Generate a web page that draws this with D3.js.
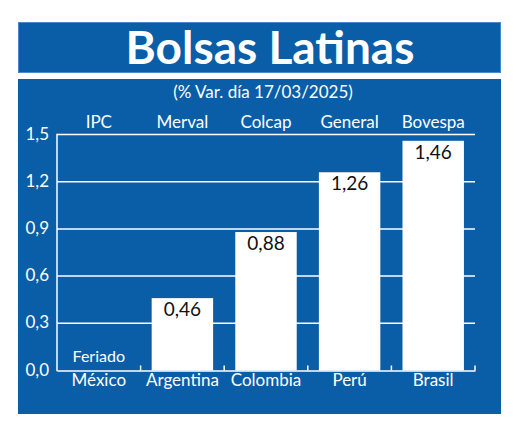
<!DOCTYPE html>
<html>
<head>
<meta charset="utf-8">
<script src="https://cdn.jsdelivr.net/npm/d3@7"></script>
<style>
  body { margin: 0; background: #fff; }
  text { font-family: Lato, "Open Sans", sans-serif; }
</style>
</head>
<body>
<svg id="chart" width="520" height="430"></svg>
<script>
// chart data
var countries = ['México', 'Argentina', 'Colombia', 'Perú', 'Brasil'];
var indices = ['IPC', 'Merval', 'Colcap', 'General', 'Bovespa'];
var values = [null, 0.46, 0.88, 1.26, 1.46];
var yTicks = [0, 0.3, 0.6, 0.9, 1.2, 1.5];

var blue = '#0a5ea8';
var svg = d3.select('#chart');

// title box
svg.append('rect')
  .attr('x', 18.5).attr('y', 22.5).attr('width', 482).attr('height', 50)
  .attr('fill', blue).attr('stroke', '#4a8acb').attr('stroke-width', 1);

svg.append('text')
  .attr('x', 270).attr('y', 63.5)
  .attr('text-anchor', 'middle')
  .attr('fill', '#fff')
  .style('font-size', '46px').style('font-weight', 700)
  .text('Bolsas Latinas');

// main box
svg.append('rect')
  .attr('x', 18).attr('y', 79).attr('width', 483).attr('height', 335)
  .attr('fill', blue);

svg.append('text')
  .attr('x', 263).attr('y', 98)
  .attr('text-anchor', 'middle')
  .attr('fill', '#fff')
  .style('font-size', '17px')
  .text('(% Var. día 17/03/2025)');

var x = d3.scaleBand().domain(countries).range([57, 475]).paddingInner(0.265).paddingOuter(0.1325);
var xb = d3.scaleBand().domain(countries).range([57, 475]);
var y = d3.scaleLinear().domain([0, 1.5]).range([370.5, 134.5]);

var fmt = v => d3.format('.1f')(v).replace('.', ',');
var fmt2 = v => d3.format('.2f')(v).replace('.', ',');

// gridlines
svg.append('g')
  .selectAll('line')
  .data(yTicks.slice(1))
  .enter().append('line')
  .attr('x1', 57).attr('x2', 475)
  .attr('y1', d => y(d)).attr('y2', d => y(d))
  .attr('stroke', '#fff').attr('stroke-width', 1.5);

// y axis labels
svg.append('g')
  .selectAll('text')
  .data(yTicks)
  .enter().append('text')
  .attr('x', 49).attr('y', d => y(d) + 5)
  .attr('text-anchor', 'end')
  .attr('fill', '#fff')
  .style('font-size', '17px')
  .text(fmt);

// bars
var data = countries.map((c, i) => ({ country: c, index: indices[i], value: values[i] }));
var withValue = data.filter(d => d.value !== null);

svg.append('g')
  .selectAll('rect')
  .data(withValue)
  .enter().append('rect')
  .attr('x', d => x(d.country))
  .attr('width', x.bandwidth())
  .attr('y', d => y(d.value))
  .attr('height', d => y(0) - y(d.value))
  .attr('fill', '#fff');

svg.append('g')
  .selectAll('text')
  .data(withValue)
  .enter().append('text')
  .attr('x', d => x(d.country) + x.bandwidth() / 2)
  .attr('y', d => y(d.value) + 18)
  .attr('text-anchor', 'middle')
  .attr('fill', '#111')
  .style('font-size', '19px')
  .text(d => fmt2(d.value));

// holiday note
svg.append('g')
  .selectAll('text')
  .data(data.filter(d => d.value === null))
  .enter().append('text')
  .attr('x', d => xb(d.country) + xb.bandwidth() / 2)
  .attr('y', 362)
  .attr('text-anchor', 'middle')
  .attr('fill', '#fff')
  .style('font-size', '16px')
  .text('Feriado');

// axes lines
svg.append('line')
  .attr('x1', 57).attr('x2', 57).attr('y1', y(1.5) - 0.75).attr('y2', y(0) + 0.75)
  .attr('stroke', '#fff').attr('stroke-width', 1.5);

var xAxis = d3.axisBottom(xb).tickSize(0).tickFormat('');
var gx = svg.append('g').attr('transform', `translate(0,${y(0)})`).call(xAxis);
gx.select('.domain').attr('stroke', '#fff').attr('stroke-width', 1.5);

// small upward ticks at band boundaries
svg.append('g')
  .selectAll('line')
  .data(countries)
  .enter().append('line')
  .attr('x1', d => xb(d) + xb.bandwidth()).attr('x2', d => xb(d) + xb.bandwidth())
  .attr('y1', y(0)).attr('y2', y(0) - 5)
  .attr('stroke', '#fff').attr('stroke-width', 1.5);

// country labels
svg.append('g')
  .selectAll('text')
  .data(countries)
  .enter().append('text')
  .attr('x', d => xb(d) + xb.bandwidth() / 2)
  .attr('y', 386)
  .attr('text-anchor', 'middle')
  .attr('fill', '#fff')
  .style('font-size', '17px')
  .text(d => d);

// index labels
svg.append('g')
  .selectAll('text')
  .data(data)
  .enter().append('text')
  .attr('x', d => xb(d.country) + xb.bandwidth() / 2)
  .attr('y', 128)
  .attr('text-anchor', 'middle')
  .attr('fill', '#111')
  .attr('fill', '#fff')
  .style('font-size', '17px')
  .text(d => d.index);
</script>
</body>
</html>
